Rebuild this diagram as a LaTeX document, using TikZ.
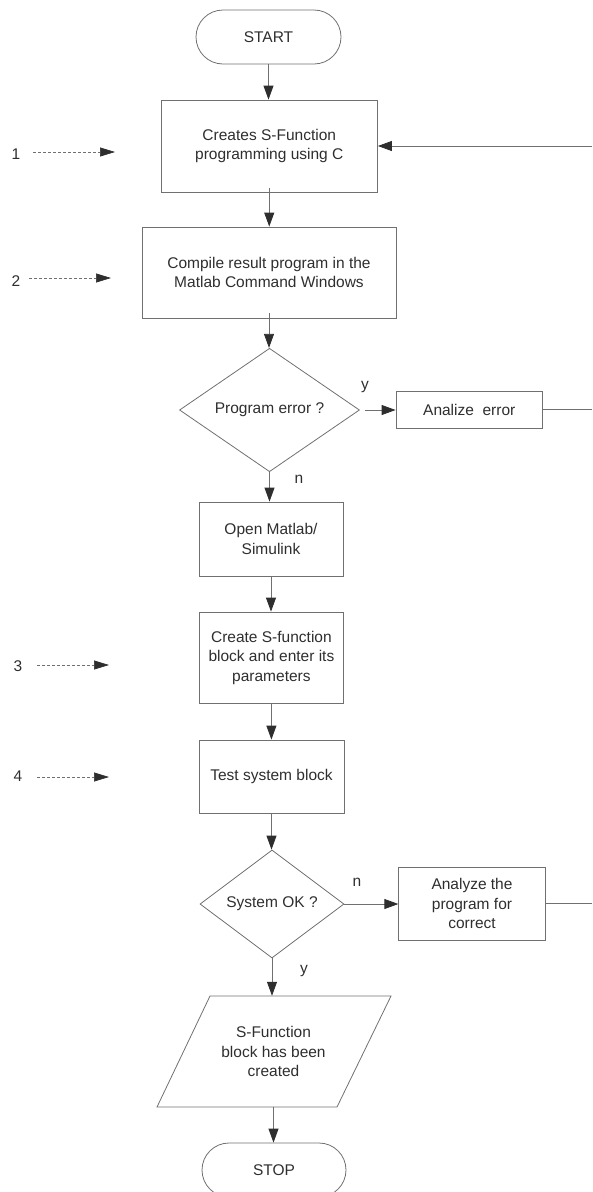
\documentclass[tikz,border=0pt]{standalone}
\usepackage{fontspec}
\setmainfont{Liberation Sans}
\usetikzlibrary{shapes.geometric,arrows.meta}
\definecolor{ln}{HTML}{707070}
\definecolor{txt}{HTML}{2E2E2E}
\begin{document}
\begin{tikzpicture}[x=1pt,y=-1pt,
  every node/.style={font=\fontsize{15.5}{19.5}\selectfont, text=txt},
  box/.style={draw=ln, line width=0.8pt, align=center, inner sep=0pt},
  term/.style={box, rounded corners=27pt, minimum height=54pt},
  dec/.style={box, diamond},
  lbl/.style={inner sep=0pt},
  flow/.style={draw=ln, line width=0.8pt, -{Triangle[length=14pt,width=10pt,color=txt]}},
  plainline/.style={draw=ln, line width=0.8pt},
  numarrow/.style={draw=ln, line width=0.7pt, dash pattern=on 3pt off 2pt, -{Triangle[length=15pt,width=9pt,color=txt]}}
]
\useasboundingbox (0,0) rectangle (592,1192);

% main column
\node[term, minimum width=145pt] (start) at (268.5,37) {START};
\node[box, minimum width=216.5pt, minimum height=92pt] (b1) at (269.25,146) {Creates S-Function\\programming using C};
\node[box, minimum width=254pt, minimum height=91pt] (b2) at (269,272.5) {Compile result program in the\\Matlab Command Windows};
\node[dec, minimum width=180pt, minimum height=110pt] (d1) at (269.5,410) {Program error ?};
\node[box, minimum width=146.5pt, minimum height=37pt] (ae) at (469.25,409.5) {Analize\ \ error};
\node[box, minimum width=144pt, minimum height=74pt] (b3) at (271,539) {Open Matlab/\\Simulink};
\node[box, minimum width=144pt, minimum height=91pt] (b4) at (271.4,657.5) {Create S-function\\block and enter its\\parameters};
\node[box, minimum width=145pt, minimum height=73pt] (b5) at (271.5,776.5) {Test system block};
\node[dec, minimum width=144pt, minimum height=108pt] (d2) at (272,904) {System OK ?};
\node[box, minimum width=146.5pt, minimum height=73pt] (ap) at (472,903.5) {Analyze the\\program for\\correct};
\node[lbl, align=center, minimum width=181pt, minimum height=111pt] (out) at (273.5,1051.5) {S-Function\\block has been\\created};
\draw[plainline] (210,996) -- (391,996) -- (337,1107) -- (157,1107) -- cycle;
\node[term, minimum width=144pt] (stop) at (274,1170) {STOP};

% branch labels
\node[lbl] (ly1) at (365,387) {y};
\node[lbl] (ln1) at (299,479) {n};
\node[lbl] (ln2) at (357,882) {n};
\node[lbl] (ly2) at (304,971) {y};

% main flow
\draw[flow] (start.south) -- (start.south |- b1.north);
\draw[flow] ([yshift=4pt]b1.south) -- (b1.south |- b2.north);
\draw[flow] ([yshift=5pt]b2.south) -- (b2.south |- d1.north);
\draw[flow] (d1.south) -- (d1.south |- b3.north);
\draw[flow] (b3.south) -- (b3.south |- b4.north);
\draw[flow] (b4.south) -- (b4.south |- b5.north);
\draw[flow] (b5.south) -- (b5.south |- d2.north);
\draw[flow] (d2.south) -- (d2.south |- out.north);
\draw[flow] (out.south |- 0,1107) -- (out.south |- stop.north);

% side branches
\draw[flow, shorten <=5pt] (d1.east) -- (d1.east -| ae.west);
\draw[flow] (d2.east) -- (d2.east -| ap.west);
\coordinate (r1) at (592,409.5);
\coordinate (r2) at (592,903.5);
\coordinate (r0) at (592,146);
\draw[plainline] (ae.east) -- (r1);
\draw[plainline] (ap.east) -- (r2);
\draw[flow] (r0) -- (b1.east);

% step markers
\node[lbl] (n1) at (16,154) {1};
\node[lbl] (n2) at (16,281) {2};
\node[lbl] (n3) at (18,666) {3};
\node[lbl] (n4) at (18,776) {4};
\coordinate (e1) at (115,152);
\coordinate (e2) at (111,278);
\coordinate (e3) at (109,665);
\coordinate (e4) at (109,777);
\draw[numarrow] (33,152) -- (e1);
\draw[numarrow] (29,278) -- (e2);
\draw[numarrow] (37,665) -- (e3);
\draw[numarrow] (37,777) -- (e4);
\end{tikzpicture}
\end{document}
